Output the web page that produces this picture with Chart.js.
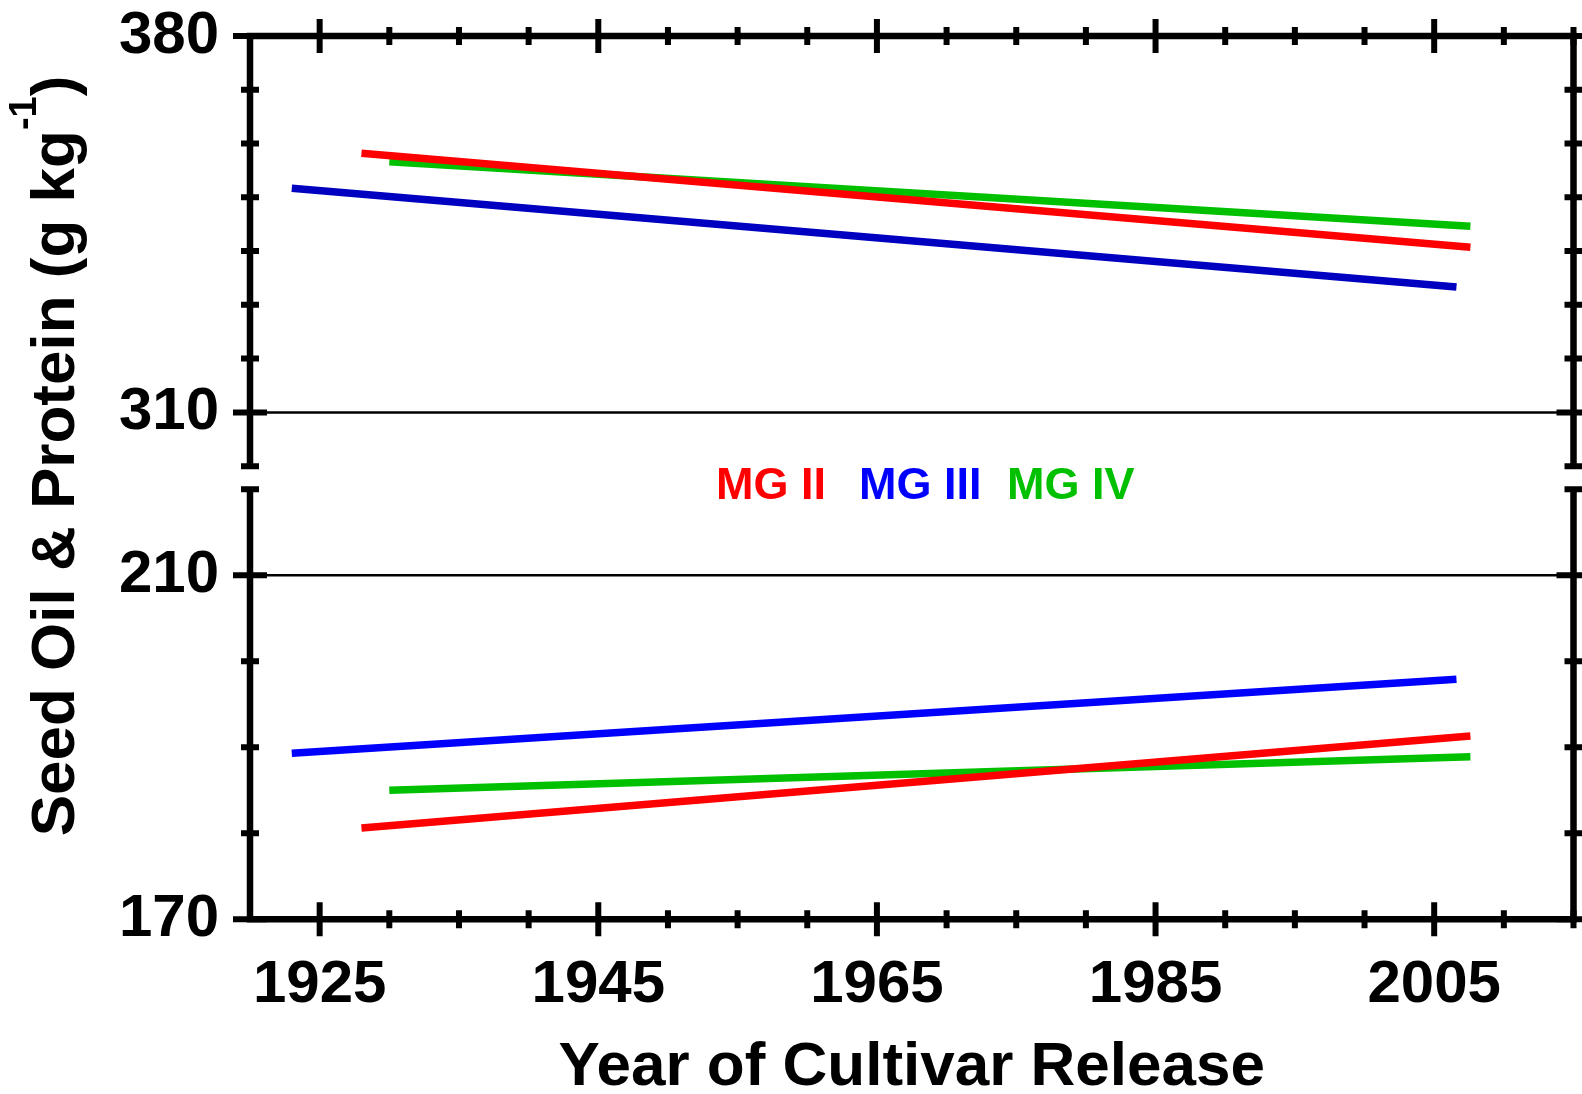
<!DOCTYPE html>
<html>
<head>
<meta charset="utf-8">
<title>Seed oil and protein by year of release</title>
<script src="https://cdn.jsdelivr.net/npm/chart.js@4.4.1/dist/chart.umd.min.js"></script>
<style>
  html, body { margin: 0; padding: 0; background: #fff; }
  #wrap { width: 1582px; height: 1094px; }
</style>
</head>
<body>
<div id="wrap"><canvas id="seedChart" width="1582" height="1094"></canvas></div>
<script>
// maturity groups and their fitted trend end points
const groups = ["MG II", "MG III", "MG IV"];
const yearFrom = [1928, 1923, 1930];
const yearTo = [2007.6, 2006.6, 2007.6];
const proteinFrom = [358.2, 351.7, 356.6];
const proteinTo = [340.7, 333.3, 344.6];
const oilFrom = [180.6, 189.3, 185.0];
const oilTo = [191.3, 197.9, 188.9];

// labelled ticks
const yearLabels = [1925, 1945, 1965, 1985, 2005];
const proteinLabels = [380, 310];
const oilLabels = [210, 170];

const proteinColors = ["#ff0000", "#0000c0", "#00c000"];
const oilColors = ["#ff0000", "#0000ff", "#00c000"];
const textColors = ["#ff0000", "#0000ff", "#00c000"];

const FONT = "'Liberation Sans', Arial, Helvetica, sans-serif";
Chart.defaults.font.family = FONT;
Chart.defaults.color = "#000";

const datasets = [];
groups.forEach((g, i) => {
  datasets.push({
    label: g + " protein",
    yAxisID: "yTop",
    borderColor: proteinColors[i],
    data: [{ x: yearFrom[i], y: proteinFrom[i] }, { x: yearTo[i], y: proteinTo[i] }]
  });
});
groups.forEach((g, i) => {
  datasets.push({
    label: g + " oil",
    yAxisID: "yBot",
    borderColor: oilColors[i],
    data: [{ x: yearFrom[i], y: oilFrom[i] }, { x: yearTo[i], y: oilTo[i] }]
  });
});

const panelGap = 23;

// split the left stack into two panels with a break between them,
// then draw the frame, ticks, titles and group labels by hand
const axisFrame = {
  id: "axisFrame",
  afterLayout(chart) {
    const a = chart.chartArea;
    const h = (a.bottom - a.top - panelGap) / 2;
    const top = chart.scales.yTop;
    const bot = chart.scales.yBot;
    top.top = a.top; top.bottom = a.top + h; top.height = h;
    bot.top = a.bottom - h; bot.bottom = a.bottom; bot.height = h;
    top.configure();
    bot.configure();
  },
  afterDraw(chart) {
    const ctx = chart.ctx;
    const x = chart.scales.x;
    const yt = chart.scales.yTop;
    const yb = chart.scales.yBot;
    const L = chart.chartArea.left;
    const R = chart.chartArea.right;
    const T = yt.top, TB = yt.bottom, BT = yb.top, B = yb.bottom;

    ctx.save();
    ctx.strokeStyle = "#000";

    // reference lines at the panel labels
    ctx.lineWidth = 2.5;
    [[yt, 310], [yb, 210]].forEach(([s, v]) => {
      const py = s.getPixelForValue(v);
      ctx.beginPath();
      ctx.moveTo(L, py);
      ctx.lineTo(R, py);
      ctx.stroke();
    });

    // panel borders
    ctx.lineWidth = 6.5;
    ctx.lineJoin = "miter";
    ctx.lineCap = "butt";
    ctx.beginPath();
    ctx.moveTo(L, TB); ctx.lineTo(L, T); ctx.lineTo(R, T); ctx.lineTo(R, TB);
    ctx.stroke();
    ctx.beginPath();
    ctx.moveTo(L, BT); ctx.lineTo(L, B); ctx.lineTo(R, B); ctx.lineTo(R, BT);
    ctx.stroke();

    // y ticks, both sides, crossing the border
    ctx.lineWidth = 6;
    const yTicks = (s, labels) => {
      s.ticks.forEach(t => {
        const py = s.getPixelForValue(t.value);
        const half = labels.includes(t.value) ? 17 : 9;
        ctx.beginPath();
        ctx.moveTo(L - half, py); ctx.lineTo(L + half, py);
        ctx.moveTo(R - half, py); ctx.lineTo(R + half, py);
        ctx.stroke();
      });
    };
    yTicks(yt, proteinLabels);
    yTicks(yb, oilLabels);

    // x ticks on top and bottom borders
    x.ticks.forEach(t => {
      if (t.value === x.min) return;
      const px = x.getPixelForValue(t.value);
      const half = yearLabels.includes(t.value) ? 17 : 9;
      ctx.beginPath();
      ctx.moveTo(px, T - half); ctx.lineTo(px, T + half);
      ctx.moveTo(px, B - half); ctx.lineTo(px, B + half);
      ctx.stroke();
    });

    // x title
    ctx.fillStyle = "#000";
    ctx.font = "bold 62px " + FONT;
    ctx.textAlign = "center";
    ctx.textBaseline = "alphabetic";
    ctx.fillText("Year of Cultivar Release", (L + R) / 2, 1085);

    // y title with superscript
    const main = "Seed Oil & Protein (g kg";
    const sup = "-1";
    const close = ")";
    const bigFont = "bold 62px " + FONT;
    const supFont = "bold 38px " + FONT;
    ctx.font = bigFont;
    const wMain = ctx.measureText(main).width;
    const wClose = ctx.measureText(close).width;
    ctx.font = supFont;
    const wSup = ctx.measureText(sup).width;
    const total = wMain + wSup + wClose;
    ctx.translate(74, 456);
    ctx.rotate(-Math.PI / 2);
    ctx.textAlign = "left";
    let u = -total / 2;
    ctx.font = bigFont;
    ctx.fillText(main, u, 0);
    u += wMain;
    ctx.font = supFont;
    ctx.fillText(sup, u, -38);
    u += wSup;
    ctx.font = bigFont;
    ctx.fillText(close, u, 0);
    ctx.setTransform(1, 0, 0, 1, 0, 0);

    // group labels
    const labelX = [716, 859, 1007];
    ctx.font = "bold 45px " + FONT;
    ctx.textAlign = "left";
    groups.forEach((g, i) => {
      ctx.fillStyle = textColors[i];
      ctx.fillText(g, labelX[i], 499);
    });
    ctx.restore();
  }
};

const tickFont = { size: 60, weight: "bold" };

// keep the plot area fixed: no extra room for overhanging end labels
const noPad = s => { s.paddingTop = 0; s.paddingBottom = 0; s.paddingLeft = 0; s.paddingRight = 0; };

new Chart(document.getElementById("seedChart"), {
  type: "line",
  data: { datasets },
  options: {
    responsive: false,
    animation: false,
    events: [],
    layout: { padding: { top: 36, right: 8.5, left: 0, bottom: 0 } },
    elements: {
      line: { borderWidth: 7.5, tension: 0, fill: false, borderCapStyle: "butt" },
      point: { radius: 0 }
    },
    plugins: {
      legend: { display: false },
      tooltip: { enabled: false }
    },
    scales: {
      x: {
        type: "linear",
        min: 1920,
        max: 2015,
        grid: { display: false, drawTicks: false },
        border: { display: false },
        ticks: {
          stepSize: 5,
          autoSkip: false,
          maxRotation: 0,
          padding: 30,
          color: "#000",
          font: tickFont,
          callback: v => yearLabels.includes(v) ? String(v) : ""
        },
        afterFit: s => { noPad(s); s.height = 174.7; }
      },
      yTop: {
        type: "linear",
        position: "left",
        stack: "panels",
        min: 300,
        max: 380,
        grid: { display: false, drawTicks: false },
        border: { display: false },
        ticks: {
          stepSize: 10,
          autoSkip: false,
          padding: 31,
          color: "#000",
          font: tickFont,
          callback: v => proteinLabels.includes(v) ? String(v) : ""
        },
        afterFit: s => { noPad(s); s.width = 250; }
      },
      yBot: {
        type: "linear",
        position: "left",
        stack: "panels",
        min: 170,
        max: 220,
        grid: { display: false, drawTicks: false },
        border: { display: false },
        ticks: {
          stepSize: 10,
          autoSkip: false,
          padding: 31,
          color: "#000",
          font: tickFont,
          callback: v => oilLabels.includes(v) ? String(v) : ""
        },
        afterFit: s => { noPad(s); s.width = 250; }
      }
    }
  },
  plugins: [axisFrame]
});
</script>
</body>
</html>
